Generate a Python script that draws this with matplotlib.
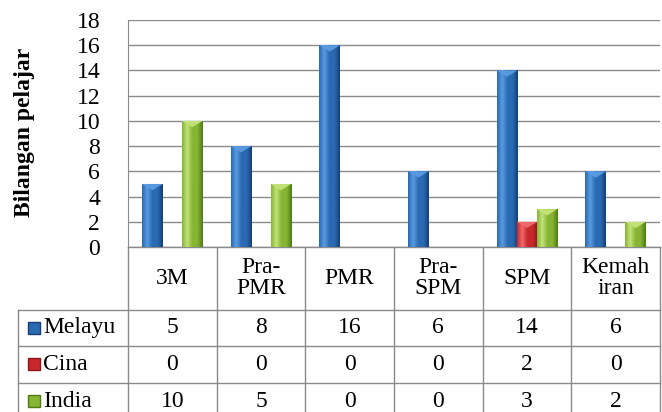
import numpy as np
import matplotlib.pyplot as plt
from matplotlib.colors import LinearSegmentedColormap
from matplotlib.patches import Polygon
from matplotlib.transforms import blended_transform_factory

# data
kategori = ['3M', 'Pra-\nPMR', 'PMR', 'Pra-\nSPM', 'SPM', 'Kemah\niran']
kaum = ['Melayu', 'Cina', 'India']
melayu = [5, 8, 16, 6, 14, 6]
cina = [0, 0, 0, 0, 2, 0]
india = [10, 5, 0, 0, 3, 2]
nilai = [melayu, cina, india]

# (gelap, sederhana, terang) untuk setiap siri
warna = [('#173f75', '#2a6ab3', '#5b9be0'),
         ('#8e1519', '#c8282c', '#ef6a6d'),
         ('#4f7a14', '#86b534', '#c3e37a')]

plt.rcParams['font.family'] = 'serif'
plt.rcParams['font.serif'] = ['Liberation Serif', 'DejaVu Serif']
fs = 17

fig = plt.figure(figsize=(6.62, 4.12), dpi=100)
ax = fig.add_axes([128/662, 1-247/412, 532/662, 227/412])

x = np.arange(len(kategori))
lebar = 0.235
ofset = [-0.225, 0.0, 0.225]

for k in range(len(kaum)):
    gelap, sedang, terang = warna[k]
    cmap = LinearSegmentedColormap.from_list('g', [sedang, terang, sedang, sedang, gelap])
    bars = ax.bar(x + ofset[k], nilai[k], lebar, color=sedang, zorder=3, linewidth=0)
    for b, h in zip(bars, nilai[k]):
        if h == 0:
            b.set_visible(False)
            continue
        x0 = b.get_x()
        x1 = x0 + b.get_width()
        grad = np.linspace(0, 1, 64).reshape(1, -1)
        im = ax.imshow(grad, cmap=cmap, extent=[x0, x1, 0, h], aspect='auto', zorder=3.5)
        im.set_clip_path(b)
        # penutup atas yang lebih cerah
        tri = Polygon([(x0, h), (x1, h), ((x0 + x1) / 2, h - 0.5)], closed=True,
                      facecolor=terang, alpha=0.95, edgecolor='none', zorder=4)
        ax.add_patch(tri)

ax.set_xlim(-0.5, len(kategori) - 0.5)
ax.set_ylim(0, 18)
ax.set_yticks(range(0, 19, 2))
ax.set_xticks([])
ax.yaxis.grid(True, color='#8a8a8a', linewidth=1)
ax.set_axisbelow(True)
ax.tick_params(axis='y', length=0, pad=20, labelsize=fs)
for s in ['top', 'right', 'bottom']:
    ax.spines[s].set_visible(False)
ax.spines['left'].set_color('#8a8a8a')

fig.text(25/662, 1-132/412, 'Bilangan pelajar', rotation=90, fontsize=fs,
         fontweight='bold', ha='center', va='center')

# jadual data di bawah paksi
tr = blended_transform_factory(ax.transData, ax.transAxes)
px = 532 / len(kategori)
kiri = -0.5 + (18 - 128) / px
kanan = len(kategori) - 0.5
baris = [0, -0.2775, -0.436, -0.599, -0.762]
garis = dict(color='#8a8a8a', linewidth=1, transform=tr, clip_on=False)

ax.plot([-0.5, kanan], [baris[0], baris[0]], **garis)
for y in baris[1:]:
    ax.plot([kiri, kanan], [y, y], **garis)
for i in range(len(kategori) + 1):
    ax.plot([i - 0.5, i - 0.5], [baris[0], baris[-1]], **garis)
ax.plot([kiri, kiri], [baris[1], baris[-1]], **garis)

for i, lab in enumerate(kategori):
    ax.text(i, (baris[0] + baris[1]) / 2, lab, ha='center', va='center', fontsize=fs,
            linespacing=1.0, transform=tr, clip_on=False)

for k in range(len(kaum)):
    yc = (baris[k + 1] + baris[k + 2]) / 2
    ax.plot([kiri + 16 / px], [yc], marker='s', markersize=8, color=warna[k][1],
            markeredgecolor=warna[k][0], transform=tr, clip_on=False)
    ax.text(kiri + 25 / px, yc, kaum[k], ha='left', va='center', fontsize=fs,
            transform=tr, clip_on=False)
    for i, v in enumerate(nilai[k]):
        ax.text(i, yc, str(v), ha='center', va='center', fontsize=fs,
                transform=tr, clip_on=False)

fig.savefig('out.png', dpi=100)
